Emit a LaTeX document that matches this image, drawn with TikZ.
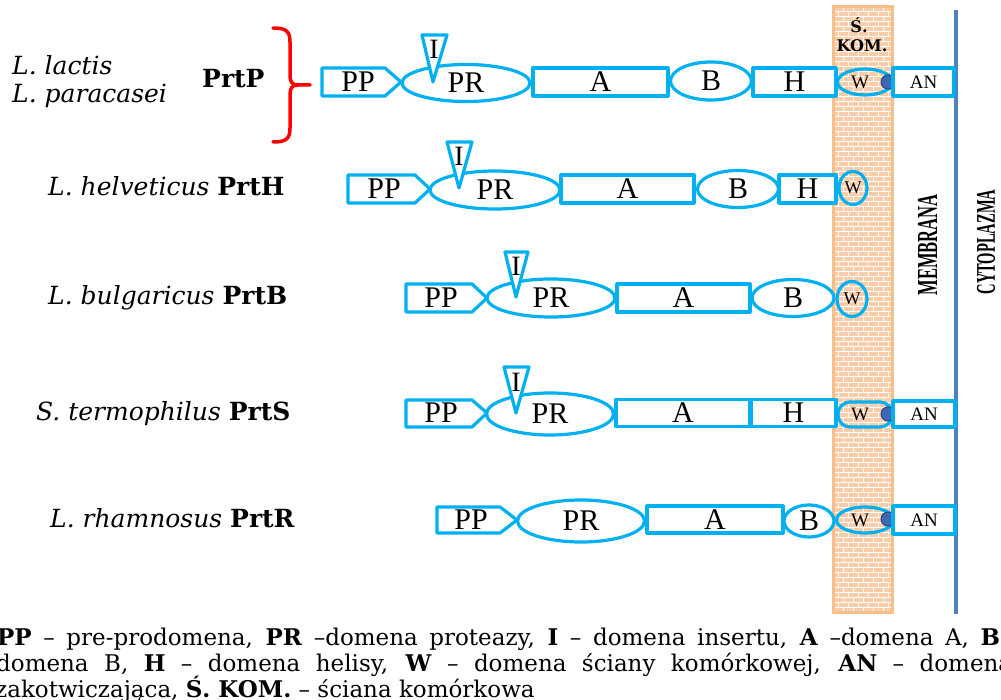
\documentclass[tikz,border=0pt]{standalone}
\usepackage{fontspec}
\setmainfont{Liberation Serif}
\newfontfamily\dvs{DejaVu Serif}
\usetikzlibrary{shapes.geometric}
\definecolor{cblue}{RGB}{0,176,240}
\definecolor{wallfill}{RGB}{250,204,168}
\definecolor{walledge}{RGB}{248,190,140}
\definecolor{membr}{RGB}{79,129,189}
\definecolor{dotc}{RGB}{60,104,180}
\definecolor{dotedge}{RGB}{40,72,130}
\tikzset{
 dom/.style={draw=cblue, line width=3.2pt, fill=white, inner sep=0pt, line join=round},
 rbox/.style={dom, rectangle, font=\fontsize{30}{30}\selectfont},
 ell/.style={dom, ellipse, font=\fontsize{30}{30}\selectfont},
 wshape/.style={draw=cblue, line width=3.2pt, ellipse, inner sep=0pt},
 txt/.style={inner sep=0pt, font=\fontsize{30}{30}\selectfont},
 itxt/.style={inner sep=0pt, font=\fontsize{28}{28}\selectfont},
 wtxt/.style={inner sep=0pt, font=\fontsize{19}{19}\selectfont},
 antxt/.style={font=\fontsize{19}{19}\selectfont},
 dotn/.style={circle, fill=dotc, draw=dotedge, line width=1pt, minimum size=14pt, inner sep=0pt},
 species/.style={anchor=base west, inner sep=0pt, font=\dvs\fontsize{25}{25}\selectfont},
 legend/.style={anchor=base west, inner sep=0pt, font=\dvs\fontsize{23}{23}\selectfont},
 brace/.style={draw=red, line width=3.5pt, line cap=round},
 vlabel/.style={rotate=90, inner sep=0pt},
}
\begin{document}
\begin{tikzpicture}[x=1pt,y=-1pt]
\useasboundingbox (0,0) rectangle (1001,700);
\clip (0,0) rectangle (1001,700);
% cell wall
\fill[wallfill] (833,7) rectangle (892,612);
\begin{scope}
\clip (833,7) rectangle (892,612);
\draw[white, line width=1pt] \foreach \r in {0,...,121} { (833,{7+5*\r}) -- (892,{7+5*\r}) };
\draw[white, line width=1pt] \foreach \r in {0,...,121} { \foreach \c in {0,...,6} { ({833+10*\c+5*mod(\r,2)},{7+5*\r}) -- ({833+10*\c+5*mod(\r,2)},{12+5*\r}) } };
\end{scope}
\draw[walledge, line width=3pt] (833,7) rectangle (892,612);
\node[inner sep=0pt, anchor=base, font=\dvs\bfseries\fontsize{16}{16}\selectfont] (s1) at (859,33) {Ś.};
\node[inner sep=0pt, anchor=base, font=\dvs\bfseries\fontsize{16}{16}\selectfont] (kom) at (862,52) {KOM.};
% membrane
\draw[membr, line width=4pt] (956,10) -- (956,614);
\node[vlabel, font=\bfseries\fontsize{29}{29}\selectfont] (memb) at (927.5,245) {\scalebox{0.57}[1]{MEMBRANA}};
\node[vlabel, font=\bfseries\fontsize{27}{27}\selectfont] (cyto) at (986,242) {\scalebox{0.54}[1]{CYTOPLAZMA}};
% brace
\draw[brace] (273,28) .. controls (286,28) and (290,31) .. (290,42) -- (290,75) .. controls (290,82) and (292,85) .. (298,85) -- (310,85);
\draw[brace] (273,142) .. controls (286,142) and (290,139) .. (290,128) -- (290,95) .. controls (290,88) and (292,85) .. (298,85);
% species labels
\node[species] (lac) at (12,75) {\itshape L. lactis};
\node[species] (par) at (12,103) {\itshape L. paracasei};
\node[species] (prtp) at (202,88) {\bfseries PrtP};
\node[species] (hel) at (48,196) {\textit{L. helveticus} \textbf{PrtH}};
\node[species] (bul) at (48,305) {\textit{L. bulgaricus} \textbf{PrtB}};
\node[species] (ter) at (36,420) {\textit{S. termophilus} \textbf{PrtS}};
\node[species] (rha) at (50,527) {\textit{L. rhamnosus} \textbf{PrtR}};
% ---- row 1 PrtP
\draw[dom] (322,68) -- (385,68) -- (401,82) -- (385,96) -- (322,96) -- cycle;
\node[txt] (pp1) at (358,82) {PP};
\node[ell, minimum width=128pt, minimum height=37pt] (pr1) at (466,83) {PR};
\draw[dom] (422,35) -- (447,35) -- (433,82) -- cycle;
\node[itxt] (i1) at (434,49) {I};
\node[rbox, minimum width=135pt, minimum height=28pt] (a1) at (600.5,82) {A};
\node[ell, minimum width=81pt, minimum height=38pt] (b1) at (711,81) {B};
\node[rbox, minimum width=83pt, minimum height=28pt] (h1) at (794.5,82) {H};
\node[wshape, minimum width=55pt, minimum height=26pt] (w1) at (865,82) {};
\node[wtxt] (w1t) at (860,82) {W};
\node[dotn] (d1) at (888,82) {};
\node[rbox, antxt, minimum width=61pt, minimum height=28pt] (an1) at (923.5,82) {AN};
% ---- row 2 PrtH
\draw[dom] (348,175) -- (415,175) -- (430,189) -- (415,203) -- (348,203) -- cycle;
\node[txt] (pp2) at (384,189) {PP};
\node[ell, minimum width=130pt, minimum height=38pt] (pr2) at (495,190) {PR};
\draw[dom] (447,142) -- (472,142) -- (459,188) -- cycle;
\node[itxt] (i2) at (459,156) {I};
\node[rbox, minimum width=133pt, minimum height=28pt] (a2) at (627.5,189) {A};
\node[ell, minimum width=81pt, minimum height=37pt] (b2) at (738,189) {B};
\node[rbox, minimum width=57pt, minimum height=28pt] (h2) at (807.5,189) {H};
\node[wshape, minimum width=28pt, minimum height=33pt] (w2) at (853,188) {};
\node[wtxt, font=\fontsize{18}{18}\selectfont] (w2t) at (853,188) {W};
% ---- row 3 PrtB
\draw[dom] (406,284) -- (472,284) -- (487,298) -- (472,312) -- (406,312) -- cycle;
\node[txt] (pp3) at (441,298) {PP};
\node[ell, minimum width=128pt, minimum height=38pt] (pr3) at (551,298) {PR};
\draw[dom] (505,252) -- (528,252) -- (516,297) -- cycle;
\node[itxt] (i3) at (516,266) {I};
\node[rbox, minimum width=133pt, minimum height=28pt] (a3) at (683.5,298) {A};
\node[ell, minimum width=82pt, minimum height=37pt] (b3) at (793,298) {B};
\node[wshape, minimum width=30pt, minimum height=35pt] (w3) at (852,299) {};
\node[wtxt, font=\fontsize{18}{18}\selectfont] (w3t) at (852,299) {W};
% ---- row 4 PrtS
\draw[dom] (406,400) -- (472,400) -- (487,413) -- (472,427) -- (406,427) -- cycle;
\node[txt] (pp4) at (441,413) {PP};
\node[ell, minimum width=127pt, minimum height=42pt] (pr4) at (550,414) {PR};
\draw[dom] (504,367) -- (529,367) -- (516,413) -- cycle;
\node[itxt] (i4) at (516,382) {I};
\node[rbox, minimum width=134pt, minimum height=27pt] (a4) at (683,413) {A};
\node[rbox, minimum width=85pt, minimum height=27pt] (h4) at (793.5,413) {H};
\node[draw=cblue, line width=3.2pt, rectangle, rounded corners=12pt, minimum width=54pt, minimum height=25pt, inner sep=0pt] (w4) at (865,414.5) {};
\node[wtxt] (w4t) at (860,414) {W};
\node[dotn] (d4) at (888,414) {};
\node[rbox, antxt, minimum width=62pt, minimum height=26pt] (an4) at (924,414) {AN};
% ---- row 5 PrtR
\draw[dom] (437,507) -- (500,507) -- (517,520) -- (500,533) -- (437,533) -- cycle;
\node[txt] (pp5) at (471,520) {PP};
\node[ell, minimum width=127pt, minimum height=42pt] (pr5) at (581,521) {PR};
\node[rbox, minimum width=136pt, minimum height=27pt] (a5) at (715,519.5) {A};
\node[ell, minimum width=50pt, minimum height=32pt] (b5) at (809,521) {B};
\node[wshape, minimum width=57pt, minimum height=26pt] (w5) at (865,520) {};
\node[wtxt] (w5t) at (860,520) {W};
\node[dotn] (d5) at (888,519) {};
\node[rbox, antxt, minimum width=62pt, minimum height=28pt] (an5) at (924,520) {AN};
% legend
\node[legend] (leg1) at (-3,645) {\makebox[1026pt][s]{\textbf{PP} – pre-prodomena, \textbf{PR} –domena proteazy, \textbf{I} – domena insertu, \textbf{A} –domena A, \textbf{B} –}};
\node[legend] (leg2) at (-4,671) {\makebox[1016pt][s]{domena B, \textbf{H} – domena helisy, \textbf{W} – domena ściany komórkowej, \textbf{AN} – domena}};
\node[legend] (leg3) at (-5,697) {zakotwiczająca, \textbf{Ś. KOM.} – ściana komórkowa};
\end{tikzpicture}
\end{document}
